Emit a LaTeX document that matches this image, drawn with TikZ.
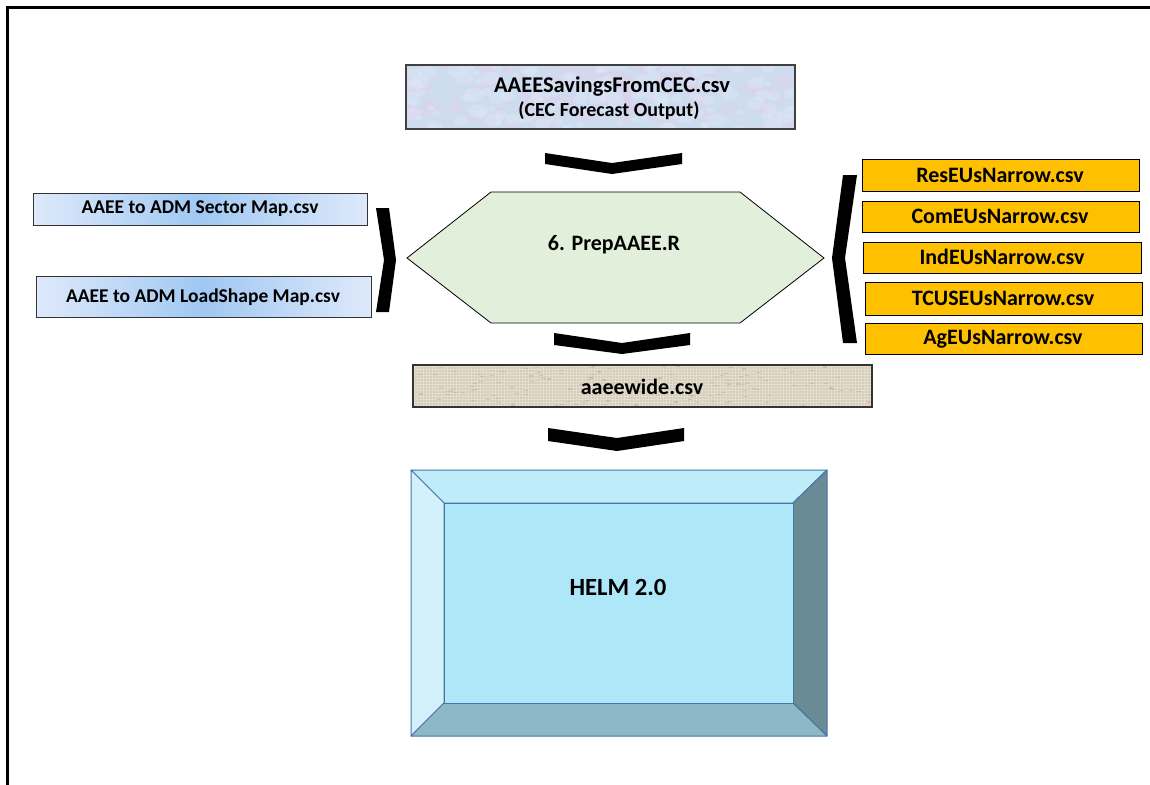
\documentclass[tikz,border=0pt]{standalone}
\usepackage{fontspec}
\setmainfont{Carlito}
\definecolor{tissue}{RGB}{206,220,240}
\definecolor{tissuepink}{RGB}{226,206,232}
\definecolor{tissuelight}{RGB}{226,236,249}
\definecolor{burlap}{RGB}{214,204,186}
\definecolor{burlapline}{RGB}{236,230,218}
\definecolor{burlapdark}{RGB}{186,174,152}
\definecolor{hexgreen}{RGB}{226,239,218}
\definecolor{orangebox}{RGB}{255,192,0}
\definecolor{mapedge}{RGB}{222,233,250}
\definecolor{mapmid}{RGB}{160,200,242}
\definecolor{helmedge}{RGB}{72,116,168}
\definecolor{helmtop}{RGB}{190,236,249}
\definecolor{helmleft}{RGB}{210,241,251}
\definecolor{helmright}{RGB}{104,139,149}
\definecolor{helmbottom}{RGB}{141,185,198}
\definecolor{helmface}{RGB}{174,231,247}
\begin{document}
\begin{tikzpicture}[x=1pt,y=-1pt,
  txt/.style={font=\bfseries\fontsize{#1}{#1}\selectfont, inner sep=0pt, text=black},
  mapbox/.style={draw=black!80, line width=0.8pt, left color=mapedge, right color=mapedge, middle color=mapmid},
  orbox/.style={draw=black, line width=0.8pt, fill=orangebox},
  chev/.style={fill=black},
  helmpart/.style={draw=helmedge, line width=1pt, line join=round}
]
\useasboundingbox (0,0) rectangle (1150,784);

% frame
\draw[line width=3pt] (7.5,900) -- (7.5,7.5) -- (1200,7.5);

% top box with tissue texture
\begin{scope}
  \clip (406,65) rectangle (795,129);
  \fill[tissue] (406,65) rectangle (795,129);
  \pgfmathsetseed{11}
  \foreach \i in {1,...,140}{
    \pgfmathsetmacro\px{406+389*rnd}
    \pgfmathsetmacro\py{65+64*rnd}
    \pgfmathsetmacro\rr{3+8*rnd}
    \fill[tissuepink, opacity=0.3] (\px,\py) ellipse ({\rr pt} and {0.6*\rr pt});
  }
  \foreach \i in {1,...,140}{
    \pgfmathsetmacro\px{406+389*rnd}
    \pgfmathsetmacro\py{65+64*rnd}
    \pgfmathsetmacro\rr{3+7*rnd}
    \fill[tissuelight, opacity=0.35] (\px,\py) ellipse ({\rr pt} and {0.7*\rr pt});
  }
\end{scope}
\draw[black!75, line width=1.2pt] (406,65) rectangle (795,129);
\node[txt=22.5] (cec) at (612,87) {AAEESavingsFromCEC.csv};
\node[txt=20] (cecsub) at (609,111) {(CEC Forecast Output)};

% chevrons
\fill[chev] (545,153) -- (612,163) -- (682,153) -- (682,164) -- (612,174) -- (545,164) -- cycle;
\fill[chev] (554,333) -- (622,343) -- (690,333) -- (690,345) -- (622,354) -- (554,345) -- cycle;
\fill[chev] (548,428) -- (617,438) -- (684,428) -- (684,441) -- (617,451) -- (548,441) -- cycle;

% left map boxes
\path[mapbox] (33,193) rectangle (367,225);
\node[txt=19.5] (sector) at (200,209) {AAEE to ADM Sector Map.csv};
\path[mapbox] (36,276) rectangle (371,317);
\node[txt=19.5] (loadshape) at (203,297) {AAEE to ADM LoadShape Map.csv};

% left bracket
\fill[black] (376,208) -- (389,208) -- (396,260) -- (389,312) -- (376,312) -- (384,260) -- cycle;

% hexagon
\draw[fill=hexgreen, line width=0.8pt, line join=miter] (407,258) -- (491,192) -- (740,192) -- (824,258) -- (740,323) -- (491,323) -- cycle;
\node[txt=22] (prep) at (614,245) {6. PrepAAEE.R};

% right bracket
\fill[black] (843,175) -- (857,175) -- (845,258) -- (857,343) -- (843,343) -- (832,258) -- cycle;

% right orange boxes
\path[orbox] (862,159) rectangle (1139,191);
\node[txt=22] (res) at (1000,175) {ResEUsNarrow.csv};
\path[orbox] (862,201) rectangle (1139,232);
\node[txt=22] (com) at (1000,216) {ComEUsNarrow.csv};
\path[orbox] (863,242) rectangle (1141,273);
\node[txt=22] (ind) at (1002,257) {IndEUsNarrow.csv};
\path[orbox] (865,282) rectangle (1142,315);
\node[txt=22] (tcu) at (1003,298) {TCUSEUsNarrow.csv};
\path[orbox] (865,323) rectangle (1142,354);
\node[txt=22] (ag) at (1003,339) {AgEUsNarrow.csv};

% aaeewide with burlap texture
\begin{scope}
  \clip (413,365) rectangle (872,407);
  \fill[burlap] (413,365) rectangle (872,407);
  \foreach \xx in {414,417,...,872}{
    \draw[burlapline, line width=0.6pt, opacity=0.6] (\xx,365) -- (\xx,407);
  }
  \foreach \yy in {366,369,...,407}{
    \draw[burlapline, line width=0.6pt, opacity=0.6] (413,\yy) -- (872,\yy);
  }
  \pgfmathsetseed{5}
  \foreach \i in {1,...,150}{
    \pgfmathsetmacro\px{413+459*rnd}
    \pgfmathsetmacro\py{365+42*rnd}
    \fill[burlapdark, opacity=0.5] (\px,\py) rectangle ++(4,1.2);
  }
\end{scope}
\draw[black!80, line width=1.2pt] (413,365) rectangle (872,407);
\node[txt=22] (wide) at (642,387) {aaeewide.csv};

% HELM bevel
\path[helmpart, fill=helmtop] (411,470) -- (827,470) -- (793,503) -- (444,503) -- cycle;
\path[helmpart, fill=helmleft] (411,470) -- (444,503) -- (444,703) -- (411,736) -- cycle;
\path[helmpart, fill=helmright] (827,470) -- (827,736) -- (793,703) -- (793,503) -- cycle;
\path[helmpart, fill=helmbottom] (411,736) -- (444,703) -- (793,703) -- (827,736) -- cycle;
\path[helmpart, fill=helmface] (444,503) rectangle (793,703);
\node[txt=24.7] (helm) at (618,587) {HELM 2.0};
\end{tikzpicture}
\end{document}
